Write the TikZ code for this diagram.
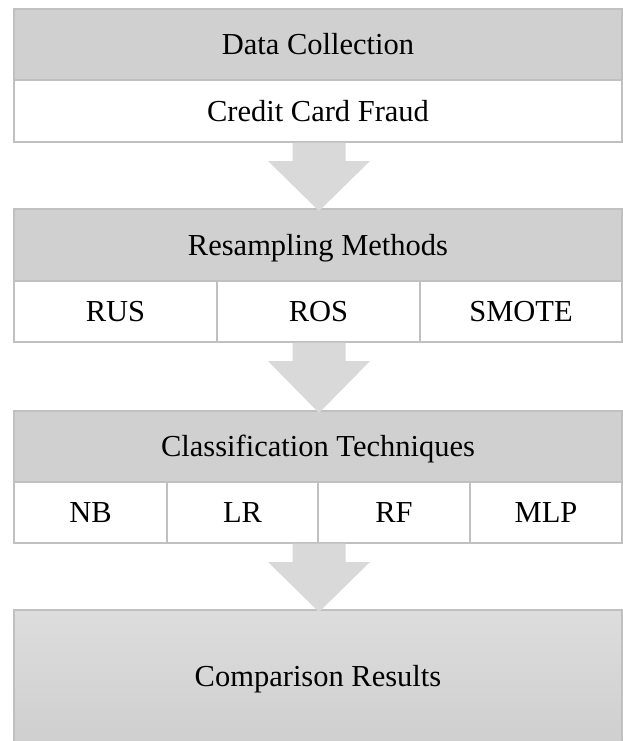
\documentclass[tikz,border=0pt]{standalone}
\usepackage{fontspec}
\setmainfont{Liberation Serif}
\usetikzlibrary{calc}
\definecolor{hdrfill}{HTML}{D0D0D0}
\definecolor{linegray}{HTML}{C0C0C0}
\definecolor{arrowfill}{HTML}{D9D9D9}
\definecolor{gradtop}{HTML}{DDDDDD}
\definecolor{gradbot}{HTML}{CFCFCF}
\newcommand\myblockarrow[2]{%
  \fill[arrowfill] let \p1=(#1.south), \p2=($(#2.north)+(1,0)$) in
    (\x2-26.5pt,\y1-0.7pt) -- (\x2+26.5pt,\y1-0.7pt) -- (\x2+26.5pt,\y1-19pt)
    -- (\x2+51pt,\y1-19pt) -- (\x2,\y2-2pt) -- (\x2-51pt,\y1-19pt)
    -- (\x2-26.5pt,\y1-19pt) -- cycle;}
\begin{document}
\begin{tikzpicture}[x=1pt,y=-1pt,
  box/.style={draw=linegray, line width=1.3pt, rectangle, inner sep=0pt, outer sep=0pt,
    font=\fontsize{30.5}{36}\selectfont, text height=20.2pt, text depth=0pt},
  hdr/.style={box, fill=hdrfill, minimum width=608pt, minimum height=71pt},
  cell/.style={box, fill=white, minimum height=61pt},
]
\useasboundingbox (0,0) rectangle (623,741);
\fill[white] (0,0) rectangle (623,741);

\node[hdr] (dc) at (318,44.5) {Data Collection};
\node[cell, minimum width=608pt, minimum height=62pt] (ccf) at (318,111) {Credit Card Fraud};

\node[hdr, minimum height=72pt] (rm) at (318,245) {Resampling Methods};
\node[cell, minimum width=203pt] (rus) at (115.5,311.5) {RUS};
\node[cell, minimum width=203pt] (ros) at (318.5,311.5) {ROS};
\node[cell, minimum width=202pt] (smote) at (521,311.5) {SMOTE};

\node[hdr] (ct) at (318,446.5) {Classification Techniques};
\node[cell, minimum width=153pt] (nb) at (90.5,512.5) {NB};
\node[cell, minimum width=151pt] (lr) at (242.5,512.5) {LR};
\node[cell, minimum width=152pt] (rf) at (394,512.5) {RF};
\node[cell, minimum width=152pt] (mlp) at (546,512.5) {MLP};

\node[box, minimum width=608pt, minimum height=133pt, top color=gradtop, bottom color=gradbot]
  (cr) at (318,676.5) {Comparison Results};

\myblockarrow{ccf}{rm}
\myblockarrow{ros}{ct}
\myblockarrow{lr}{cr}
\end{tikzpicture}
\end{document}
